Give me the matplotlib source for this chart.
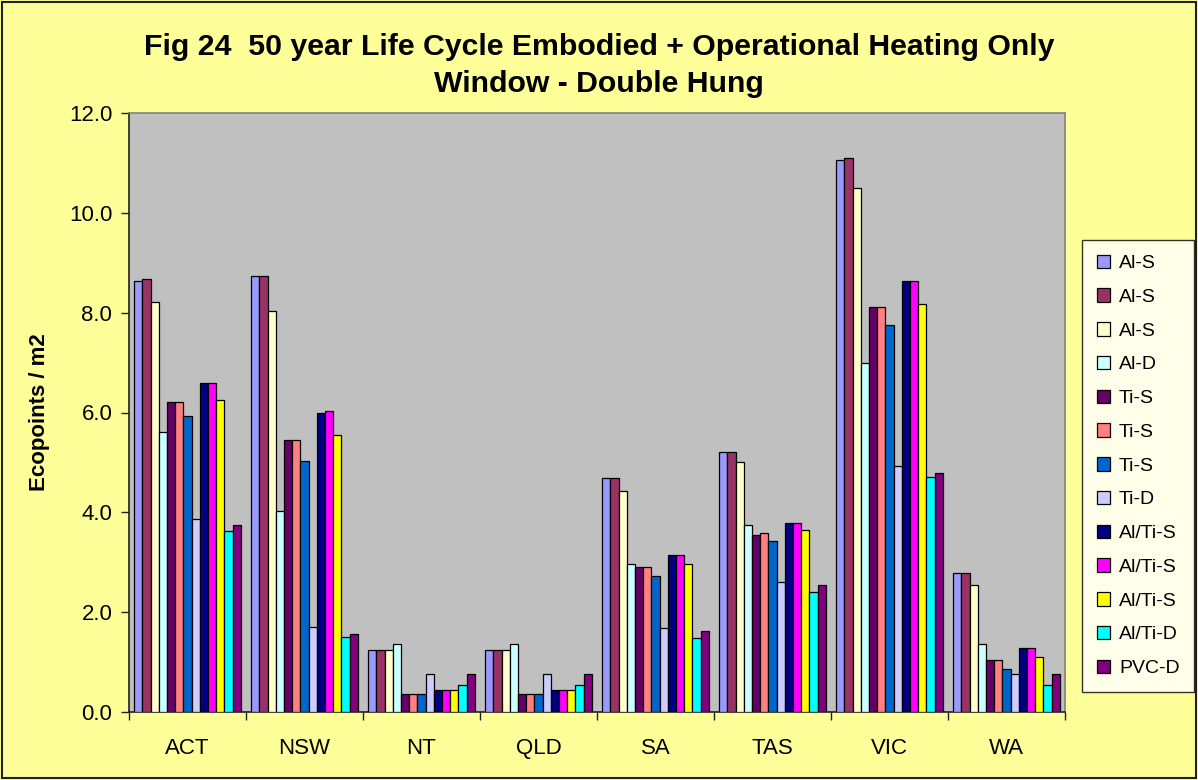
import matplotlib
matplotlib.use("Agg")
import matplotlib.pyplot as plt
import numpy as np
from matplotlib.patches import Rectangle

plt.rcParams['font.family'] = ['Liberation Sans', 'DejaVu Sans']

categories = ["ACT", "NSW", "NT", "QLD", "SA", "TAS", "VIC", "WA"]
series_names = ["Al-S", "Al-S", "Al-S", "Al-D", "Ti-S", "Ti-S", "Ti-S", "Ti-D",
                "Al/Ti-S", "Al/Ti-S", "Al/Ti-S", "Al/Ti-D", "PVC-D"]
colors = ["#9999FF", "#993366", "#FFFFCC", "#CCFFFF", "#660066", "#FF8080",
          "#0066CC", "#CCCCFF", "#000080", "#FF00FF", "#FFFF00", "#00FFFF", "#800080"]

# values per series, ordered by category (ACT, NSW, NT, QLD, SA, TAS, VIC, WA)
al_s1   = [8.64, 8.74, 1.25, 1.25, 4.68, 5.20, 11.06, 2.78]
al_s2   = [8.67, 8.74, 1.25, 1.25, 4.68, 5.20, 11.09, 2.78]
al_s3   = [8.21, 8.04, 1.25, 1.25, 4.42, 5.00, 10.49, 2.55]
al_d    = [5.60, 4.03, 1.37, 1.36, 2.96, 3.75, 7.00, 1.36]
ti_s1   = [6.21, 5.45, 0.37, 0.37, 2.91, 3.55, 8.12, 1.04]
ti_s2   = [6.21, 5.45, 0.37, 0.37, 2.91, 3.58, 8.12, 1.04]
ti_s3   = [5.93, 5.02, 0.37, 0.37, 2.73, 3.43, 7.75, 0.87]
ti_d    = [3.86, 1.71, 0.76, 0.76, 1.69, 2.60, 4.92, 0.76]
alti_s1 = [6.59, 6.00, 0.44, 0.44, 3.14, 3.78, 8.63, 1.28]
alti_s2 = [6.59, 6.04, 0.44, 0.44, 3.14, 3.78, 8.63, 1.28]
alti_s3 = [6.25, 5.54, 0.44, 0.44, 2.96, 3.64, 8.18, 1.10]
alti_d  = [3.63, 1.51, 0.55, 0.55, 1.48, 2.40, 4.71, 0.55]
pvc_d   = [3.74, 1.56, 0.76, 0.76, 1.63, 2.54, 4.79, 0.76]

series_values = [al_s1, al_s2, al_s3, al_d, ti_s1, ti_s2, ti_s3, ti_d,
                 alti_s1, alti_s2, alti_s3, alti_d, pvc_d]

W, H = 1198, 780
fig = plt.figure(figsize=(W / 100, H / 100), dpi=100)
fig.patch.set_facecolor("#FFFF99")
fig.patches.append(Rectangle((2 / W, 2 / H), 1 - 4 / W, 1 - 4 / H, transform=fig.transFigure,
                             fill=False, edgecolor="#202020", linewidth=1.5))

ax = fig.add_axes([129 / W, 1 - 712 / H, (1065 - 129) / W, (712 - 113) / H])
ax.set_facecolor("#C0C0C0")

n = len(series_values)
x = np.arange(len(categories))
bw = 0.0701
for i, (vals, name, c) in enumerate(zip(series_values, series_names, colors)):
    ax.bar(x + (i - (n - 1) / 2) * bw, vals, width=bw, color=c, edgecolor="black",
           linewidth=0.9, label=name, zorder=3)

ax.set_xlim(-0.5, len(categories) - 0.5)
ax.set_ylim(0, 12)
ax.set_yticks(np.arange(0, 12.1, 2.0))
ax.set_yticklabels([f"{v:.1f}" for v in np.arange(0, 12.1, 2.0)], fontsize=16)
ax.set_xticks(x)
ax.set_xticklabels(categories, fontsize=16)
ax.set_xticks(np.arange(-0.5, len(categories), 1.0), minor=True)
ax.tick_params(axis='x', which='major', length=0, pad=19)
ax.tick_params(axis='x', which='minor', length=6, width=1, color="#202020")
ax.tick_params(axis='y', which='major', length=6, width=1, color="#202020", pad=6)

for side in ["top", "right"]:
    ax.spines[side].set_color("#808080")
    ax.spines[side].set_linewidth(1.2)
for side in ["left", "bottom"]:
    ax.spines[side].set_color("#202020")
    ax.spines[side].set_linewidth(1.2)

ax.set_ylabel("Ecopoints / m2", fontsize=16, fontweight="bold", labelpad=14)

fig.text(0.5, 1 - 47 / H, "Fig 24  50 year Life Cycle Embodied + Operational Heating Only",
         ha="center", va="center", fontsize=21.8, fontweight="bold")
fig.text(0.5, 1 - 84 / H, "Window - Double Hung",
         ha="center", va="center", fontsize=21.8, fontweight="bold")

handles, labels = ax.get_legend_handles_labels()
leg = fig.legend(handles, labels, loc="upper left",
                 bbox_to_anchor=(1082 / W, 1 - 240 / H), bbox_transform=fig.transFigure,
                 fontsize=14, frameon=True, fancybox=False, borderaxespad=0,
                 handlelength=0.7, handleheight=0.7, handletextpad=0.45,
                 labelspacing=0.83, borderpad=0.75)
leg.get_frame().set_edgecolor("black")
leg.get_frame().set_linewidth(1.0)
leg.get_frame().set_facecolor("white")

fig.savefig("out.png", dpi=100, facecolor=fig.get_facecolor())
